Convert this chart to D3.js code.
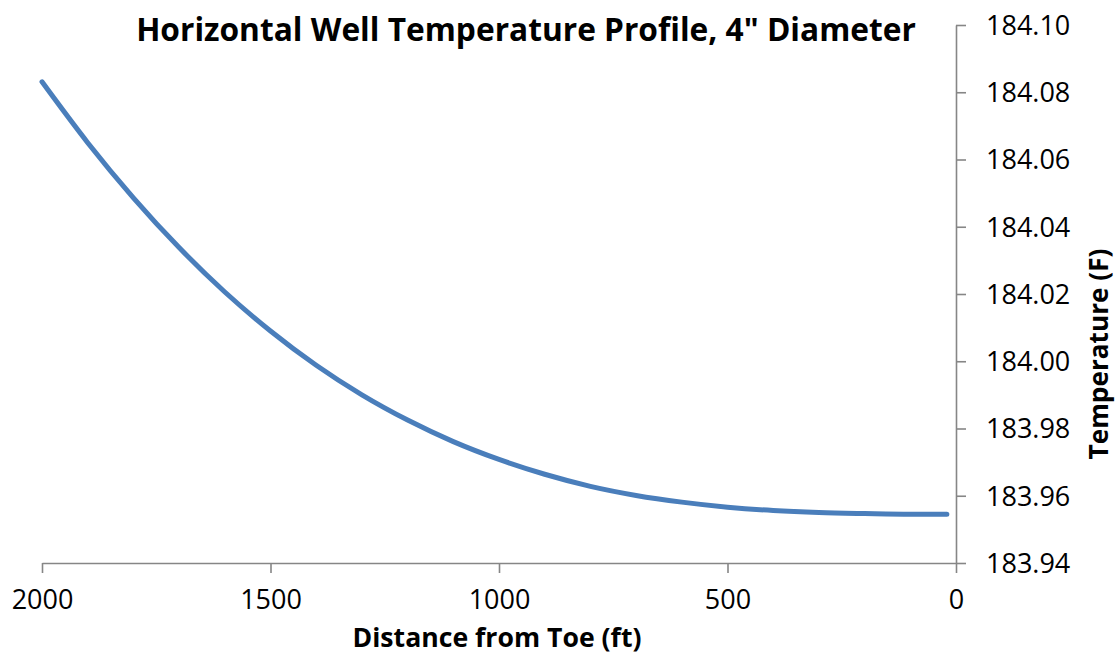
<!DOCTYPE html>
<html>
<head>
<meta charset="utf-8">
<script src="https://cdn.jsdelivr.net/npm/d3@7"></script>
<style>
  html, body { margin: 0; padding: 0; background: #fff; }
  svg { display: block; font-family: "Open Sans", "Liberation Sans", sans-serif; }
</style>
</head>
<body>
<svg id="chart" width="1117" height="658"></svg>
<script>
// Distance from the toe of the well (ft) and the modelled temperature (F)
const distanceFt = [2000, 1900, 1800, 1700, 1600, 1500, 1400, 1300, 1200, 1100, 1000,
                    900, 800, 700, 600, 500, 400, 300, 200, 100, 20];
const temperatureF = [184.0831, 184.0650, 184.0486, 184.0338, 184.0206, 184.0090, 183.9988, 183.9900,
                      183.9825, 183.9761, 183.9708, 183.9664, 183.9628, 183.9601, 183.9581, 183.9566,
                      183.9556, 183.9550, 183.9547, 183.9545, 183.9545];

const xTicks = [2000, 1500, 1000, 500, 0];
const yTicks = [183.94, 183.96, 183.98, 184.00, 184.02, 184.04, 184.06, 184.08, 184.10];

const titleText = "Horizontal Well Temperature Profile, 4\" Diameter";
const xTitleText = "Distance from Toe (ft)";
const yTitleText = "Temperature (F)";

const svg = d3.select("#chart");
const plotLeft = 42, plotRight = 956, plotTop = 25, plotBottom = 563;
const axisColor = "#868686";
const lineColor = "#4a7ebb";

const x = d3.scaleLinear().domain([2000, 0]).range([plotLeft, plotRight]);
const y = d3.scaleLinear().domain([183.94, 184.10]).range([plotBottom, plotTop]);

// x axis along the bottom, ticks pointing down
const xAxis = svg.append("g")
  .attr("transform", `translate(0,${plotBottom})`)
  .call(d3.axisBottom(x).tickValues(xTicks).tickFormat(d3.format("d")).tickSize(10).tickSizeOuter(0).tickPadding(17));

// y axis on the right, ticks pointing outward
const yAxis = svg.append("g")
  .attr("transform", `translate(${plotRight},0)`)
  .call(d3.axisRight(y).tickValues(yTicks).tickFormat(d3.format(".2f")).tickSize(10).tickSizeOuter(0).tickPadding(20));

[xAxis, yAxis].forEach(g => {
  g.select(".domain").attr("stroke", axisColor).attr("stroke-width", 1.6);
  g.selectAll(".tick line").attr("stroke", axisColor).attr("stroke-width", 1.6);
  g.selectAll(".tick text").attr("fill", "#000").style("font-size", "27px").style("font-family", "'Open Sans', sans-serif");
});
yAxis.selectAll(".tick text").attr("dy", "0.35em");

// temperature profile
const line = d3.line()
  .x((d, i) => x(distanceFt[i]))
  .y(d => y(d))
  .curve(d3.curveMonotoneX);

svg.append("path")
  .datum(temperatureF)
  .attr("fill", "none")
  .attr("stroke", lineColor)
  .attr("stroke-width", 5)
  .attr("stroke-linecap", "round")
  .attr("stroke-linejoin", "round")
  .attr("d", line);

// fit a bold label to a given width by scaling its font size
function fitText(sel, width, base) {
  sel.style("font-size", base + "px");
  const w = sel.node().getComputedTextLength();
  sel.style("font-size", (base * width / w).toFixed(2) + "px");
}

const title = svg.append("text")
  .attr("x", 526).attr("y", 41)
  .attr("text-anchor", "middle")
  .attr("font-weight", "bold")
  .text(titleText);
fitText(title, 780, 30);

const xTitle = svg.append("text")
  .attr("x", 497).attr("y", 647)
  .attr("text-anchor", "middle")
  .attr("font-weight", "bold")
  .text(xTitleText);
fitText(xTitle, 289, 26);

const yTitle = svg.append("text")
  .attr("transform", "translate(1108,354) rotate(-90)")
  .attr("text-anchor", "middle")
  .attr("font-weight", "bold")
  .text(yTitleText);
fitText(yTitle, 211, 24);
</script>
</body>
</html>
